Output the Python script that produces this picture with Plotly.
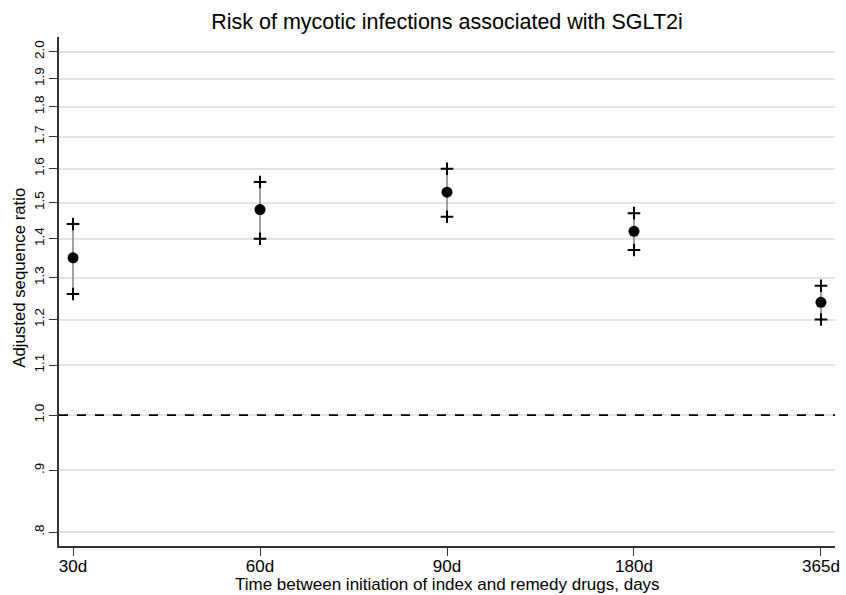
import plotly.graph_objects as go
import math

categories = ["30d", "60d", "90d", "180d", "365d"]
ratio = [1.35, 1.48, 1.53, 1.42, 1.24]
lower = [1.26, 1.40, 1.46, 1.37, 1.20]
upper = [1.44, 1.56, 1.60, 1.47, 1.28]
ytick_vals = [0.8, 0.9, 1.0, 1.1, 1.2, 1.3, 1.4, 1.5, 1.6, 1.7, 1.8, 1.9, 2.0]
ytick_text = [".8", ".9", "1.0", "1.1", "1.2", "1.3", "1.4", "1.5", "1.6", "1.7", "1.8", "1.9", "2.0"]

FONT = "Liberation Sans, Arial, sans-serif"
xs = list(range(len(categories)))

fig = go.Figure()
# CI lines
fig.add_trace(go.Scatter(
    x=xs, y=ratio, mode="markers",
    marker=dict(size=0.1, color="rgba(0,0,0,0)"),
    error_y=dict(type="data", symmetric=False,
                 array=[u - r for u, r in zip(upper, ratio)],
                 arrayminus=[r - l for r, l in zip(ratio, lower)],
                 color="#7a7a7a", thickness=1.4, width=0),
    showlegend=False, hoverinfo="skip"))
fig.add_trace(go.Scatter(
    x=xs, y=upper, mode="markers",
    marker=dict(symbol="cross-thin", size=9, line=dict(width=2, color="black")),
    showlegend=False))
fig.add_trace(go.Scatter(
    x=xs, y=lower, mode="markers",
    marker=dict(symbol="cross-thin", size=9, line=dict(width=2, color="black")),
    showlegend=False))
fig.add_trace(go.Scatter(
    x=xs, y=ratio, mode="markers",
    marker=dict(symbol="circle", size=11, color="black"),
    showlegend=False))

fig.add_shape(type="line", xref="paper", x0=0, x1=1, yref="y", y0=1.0, y1=1.0,
              line=dict(color="black", width=1.6, dash="dash"))

PH = 595 - 37 - 49
PW = 846 - 59 - 6
# axis titles as annotations for precise placement
fig.add_annotation(text="Time between initiation of index and remedy drugs, days",
                   xref="paper", x=0.5, yref="paper", y=(595 - 49 - 584.5) / PH,
                   xanchor="center", yanchor="middle", showarrow=False,
                   font=dict(size=17, family=FONT, color="black"))
fig.add_annotation(text="Adjusted sequence ratio",
                   xref="paper", x=(19 - 59) / PW, yref="paper",
                   y=(595 - 49 - 277.5) / PH,
                   xanchor="center", yanchor="middle", textangle=-90, showarrow=False,
                   font=dict(size=16.8, family=FONT, color="black"))

fig.update_layout(
    width=846, height=595,
    margin=dict(l=59, r=6, t=37, b=49),
    paper_bgcolor="white", plot_bgcolor="white",
    font=dict(family=FONT, color="black"),
    title=dict(text="Risk of mycotic infections associated with SGLT2i",
               x=0.5, xref="paper", xanchor="center", y=1 - 21 / 595, yanchor="middle",
               font=dict(size=21.5, family=FONT, color="black")),
    xaxis=dict(
        range=[-0.075, 4.075], tickvals=xs, ticktext=categories,
        showgrid=False, zeroline=False,
        showline=True, linecolor="#333333", linewidth=1.5,
        ticks="outside", ticklen=8, tickcolor="#333333", tickwidth=1.2,
        ticklabelstandoff=-4,
        tickfont=dict(size=17, family=FONT, color="black"),
    ),
    yaxis=dict(
        type="log",
        range=[math.log10(0.779), math.log10(2.057)],
        tickvals=ytick_vals, ticktext=ytick_text, tickangle=-90,
        showgrid=True, gridcolor="#e3e3e3", gridwidth=1.5,
        zeroline=False,
        showline=True, linecolor="#333333", linewidth=1.5,
        ticks="outside", ticklen=8, tickcolor="#333333", tickwidth=1.2,
        tickfont=dict(size=13.5, family=FONT, color="black"),
    ),
)

fig.write_html("out.html")
